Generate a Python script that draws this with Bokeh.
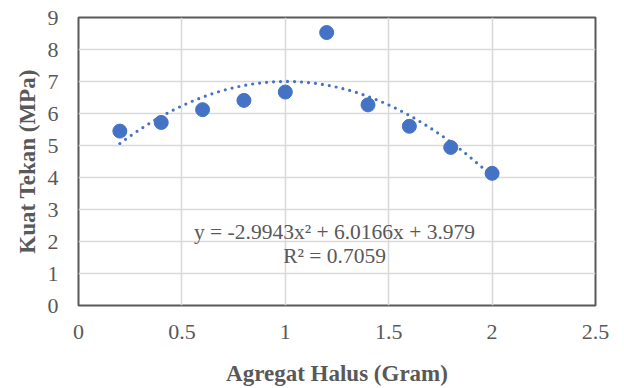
from bokeh.plotting import figure
from bokeh.models import FixedTicker, Label
from bokeh.embed import file_html
from bokeh.resources import INLINE
import numpy as np

# Data
agregat = [0.2, 0.4, 0.6, 0.8, 1.0, 1.2, 1.4, 1.6, 1.8, 2.0]
kuat = [5.45, 5.72, 6.12, 6.41, 6.67, 8.53, 6.27, 5.60, 4.94, 4.13]

# Polynomial trend line coefficients (from the chart's equation label)
coef_a, coef_b, coef_c = -2.9943, 6.0166, 3.979
r_squared = 0.7059

x_ticks = [0, 0.5, 1, 1.5, 2, 2.5]
x_tick_labels = ["0", "0.5", "1", "1.5", "2", "2.5"]
y_ticks = [0, 1, 2, 3, 4, 5, 6, 7, 8, 9]
y_tick_labels = ["0", "1", "2", "3", "4", "5", "6", "7", "8", "9"]

FONT = "Liberation Serif"
GRAY = "#595959"
BLUE = "#4472C4"

p = figure(width=624, height=388, x_range=(0, 2.5), y_range=(0, 9),
           output_backend="svg", toolbar_location=None,
           min_border_left=78, min_border_right=29,
           min_border_top=17, min_border_bottom=81)

p.background_fill_color = "white"
p.border_fill_color = "white"
p.outline_line_color = GRAY
p.outline_line_width = 2

for ax, ticks, labels in ((p.xaxis[0], x_ticks, x_tick_labels), (p.yaxis[0], y_ticks, y_tick_labels)):
    ax.ticker = FixedTicker(ticks=ticks)
    ax.major_label_overrides = {t: l for t, l in zip(ticks, labels)}
    ax.major_tick_in = 0
    ax.major_tick_out = 0
    ax.minor_tick_in = 0
    ax.minor_tick_out = 0
    ax.axis_line_color = None
    ax.major_label_text_font = FONT
    ax.major_label_text_font_size = "22px"
    ax.major_label_text_color = GRAY
    ax.axis_label_text_font = FONT
    ax.axis_label_text_font_size = "23px"
    ax.axis_label_text_font_style = "bold"
    ax.axis_label_text_color = GRAY

p.xaxis.axis_label = "Agregat Halus (Gram)"
p.yaxis.axis_label = "Kuat Tekan (MPa)"
p.xaxis.major_label_standoff = 19
p.yaxis.major_label_standoff = 20
p.xaxis.axis_label_standoff = 19
p.yaxis.axis_label_standoff = 5

p.xgrid.ticker = FixedTicker(ticks=x_ticks)
p.ygrid.ticker = FixedTicker(ticks=y_ticks)
p.grid.grid_line_color = "#d9d9d9"
p.grid.grid_line_width = 1.5

# Trend line
xs = np.linspace(min(agregat), max(agregat), 200)
ys = coef_a * xs**2 + coef_b * xs + coef_c
p.line(xs, ys, line_color=BLUE, line_width=3.2, line_dash="0 7", line_cap="round")

p.scatter(agregat, kuat, size=14, fill_color=BLUE, line_color=BLUE)

eq_text = f"y = {coef_a}x\u00b2 + {coef_b}x + {coef_c}"
r_text = f"R\u00b2 = {r_squared}"
p.add_layout(Label(x=1.238, y=2.30, text=eq_text, text_font=FONT, text_font_size="21.5px",
                   text_color=GRAY, text_align="center", text_baseline="middle"))
p.add_layout(Label(x=1.238, y=1.55, text=r_text, text_font=FONT, text_font_size="21.5px",
                   text_color=GRAY, text_align="center", text_baseline="middle"))

open("out.html", "w").write(file_html(p, INLINE))
